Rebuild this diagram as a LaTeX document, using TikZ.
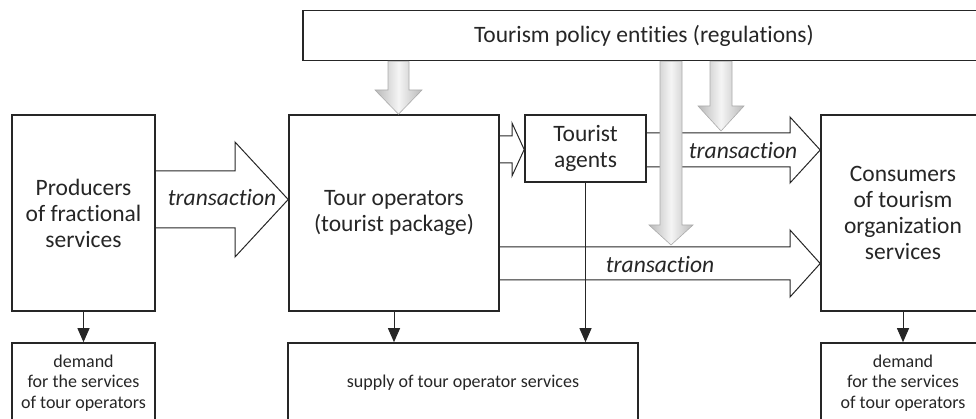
\documentclass[tikz,border=0pt]{standalone}
\usepackage{fontspec}
\setmainfont{Carlito}[Ligatures={NoCommon,NoDiscretionary}]
\usetikzlibrary{arrows.meta,calc}
\newcommand\bigfnt{\fontsize{23.5}{26}\selectfont}
\newcommand\smallfnt{\fontsize{18}{20.5}\selectfont}
\begin{document}
\begin{tikzpicture}[x=1pt,y=-1pt,
  box/.style={draw=black!85, line width=1.6pt, fill=white, inner sep=0pt, align=center, text=black!85, font=\bigfnt},
  sbox/.style={box, font=\smallfnt},
  blk/.style={draw=black!85, line width=1pt, line join=miter},
  lbl/.style={inner sep=0pt, text=black!85, font=\bigfnt\itshape},
  garrow/.style={draw=gray!65, line width=0.6pt, left color=gray!55, right color=gray!55, middle color=gray!8},
  conn/.style={draw=black!85, line width=1pt, -{Triangle[length=14pt,width=12pt]}}]
\useasboundingbox (0,0) rectangle (976,419);
\clip (0,0) rectangle (976,419);
% boxes
\node[box, minimum width=682, minimum height=50] (top) at (644,35.5) {Tourism policy entities (regulations)};
\node[box, minimum width=143, minimum height=196] (prod) at (83.5,213) {Producers\\of fractional\\services};
\node[box, minimum width=210, minimum height=196] (tour) at (394,213) {Tour operators\\(tourist package)};
\node[box, minimum width=121, minimum height=67] (agents) at (585.5,148.5) {Tourist\\agents};
\node[box, minimum width=164, minimum height=196] (cons) at (903,213) {Consumers\\of tourism\\organization\\services};
\node[sbox, minimum width=143, minimum height=80] (dl) at (83.5,383) {demand\\for the services\\of tour operators};
\node[sbox, minimum width=350, minimum height=80] (sup) at (463,383) {supply of tour operator services};
\node[sbox, minimum width=164, minimum height=80] (dr) at (903,383) {demand\\for the services\\of tour operators};
% block arrows (transactions)
\draw[blk] (prod.east |- 0,171) -- (235,171) -- (235,142) -- (tour.west |- 0,199.5) -- (235,257) -- (235,228) -- (prod.east |- 0,228);
\draw[blk] (tour.east |- 0,136) -- (512,136) -- (512,123) -- (agents.west |- 0,149.5) -- (512,176) -- (512,163) -- (tour.east |- 0,163);
\draw[blk] (agents.east |- 0,133) -- (790,133) -- (790,117) -- (cons.west |- 0,150) -- (790,183) -- (790,167) -- (agents.east |- 0,167);
\draw[blk] (tour.east |- 0,247) -- (790,247) -- (790,230) -- (cons.west |- 0,263.5) -- (790,297) -- (790,280) -- (tour.east |- 0,280);
\node[lbl] (t1) at (222,198) {transaction};
\node[lbl] (t3) at (743,151) {transaction};
\node[lbl] (t4) at (660,264.5) {transaction};
% down connectors
\draw[conn] (prod.south) -- (dl.north);
\draw[conn] (tour.south) -- (tour.south |- sup.north);
\draw[conn] (agents.south) -- (agents.south |- sup.north);
\draw[conn] (cons.south) -- (dr.north);
% grey regulation arrows
\shadedraw[garrow] (388,0 |- top.south) -- (388,90) -- (375,90) -- (398.5,0 |- tour.north) -- (422,90) -- (409,90) -- (409,0 |- top.south) -- cycle;
\shadedraw[garrow] (660,0 |- top.south) -- (660,225) -- (649,225) -- (671,245) -- (693,225) -- (682,225) -- (682,0 |- top.south) -- cycle;
\shadedraw[garrow] (710,0 |- top.south) -- (710,106) -- (698,106) -- (721,131) -- (744,106) -- (732,106) -- (732,0 |- top.south) -- cycle;
\end{tikzpicture}
\end{document}
